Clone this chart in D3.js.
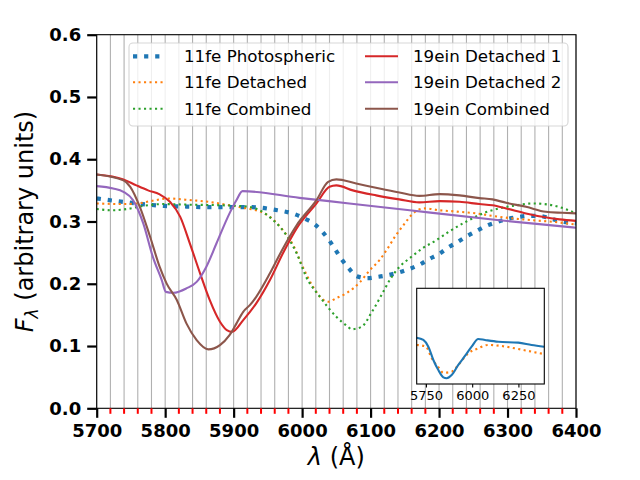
<!DOCTYPE html>
<html>
<head>
<meta charset="utf-8">
<script src="https://cdn.jsdelivr.net/npm/d3@7"></script>
<style>
  body { margin: 0; background: #fff; }
  svg { display: block; font-family: "DejaVu Sans", sans-serif; }
</style>
</head>
<body>
<div id="wrapper"></div>
<script>
// main panel data, wavelength in Angstrom, flux in arbitrary units
const photWl = [5700,5735,5766,5799,5831,5863,5895,5927,5959,5991,6005,6019,6030,6040,6049,6058,6068,6080,6095,6110,6126,6141,6157,6172,6186,6200,6213,6227,6240,6255,6269,6284,6299,6315,6331,6346,6362,6378,6400]
const photFlux = [0.337,0.332,0.328,0.325,0.324,0.323,0.323,0.323,0.319,0.311,0.304,0.295,0.283,0.269,0.254,0.239,0.225,0.212,0.209,0.211,0.214,0.218,0.224,0.231,0.240,0.248,0.258,0.267,0.276,0.285,0.293,0.299,0.304,0.307,0.309,0.309,0.305,0.300,0.297]

const detWl = [5700,5740,5760,5780,5804,5830,5860,5894,5919,5933,5953,5972,5987,6001,6016,6030,6038,6050,6065,6084,6099,6113,6125,6137,6150,6162,6179,6201,6225,6254,6278,6307,6337,6366,6400]
const detFlux = [0.329,0.328,0.329,0.333,0.337,0.335,0.332,0.326,0.321,0.318,0.3075,0.286,0.262,0.227,0.195,0.175,0.171,0.177,0.185,0.202,0.222,0.238,0.257,0.278,0.297,0.313,0.321,0.318,0.316,0.313,0.309,0.305,0.302,0.2995,0.295]

const combWl = [5700,5724,5744,5768,5797,5836,5884,5919,5938,5958,5977,5992,6006,6026,6050,6067,6072,6087,6101,6116,6128,6142,6157,6176,6196,6215,6240,6264,6288,6313,6337,6366,6400]
const combFlux = [0.320,0.318,0.320,0.325,0.328,0.327,0.326,0.324,0.318,0.302,0.278,0.249,0.211,0.179,0.147,0.131,0.127,0.131,0.153,0.182,0.206,0.227,0.241,0.257,0.270,0.284,0.300,0.313,0.321,0.326,0.329,0.326,0.313]

const det1Wl = [5700,5739,5758,5775,5792,5807,5822,5836,5851,5865,5880,5890,5898,5914,5933,5953,5972,5992,6021,6040,6050,6074,6108,6142,6171,6201,6230,6259,6278,6298,6327,6351,6376,6400]
const det1Flux = [0.3756,0.3676,0.358,0.350,0.3435,0.3316,0.3075,0.265,0.2167,0.174,0.139,0.1257,0.123,0.1417,0.1685,0.206,0.249,0.289,0.329,0.3557,0.358,0.350,0.342,0.3355,0.3307,0.3327,0.3316,0.328,0.326,0.321,0.313,0.3075,0.3034,0.301]

const det2Wl = [5700,5724,5739,5753,5768,5782,5795,5801,5812,5831,5846,5860,5875,5894,5904,5913,5996,6069,6157,6288,6400]
const det2Flux = [0.3568,0.353,0.3477,0.3343,0.297,0.2433,0.206,0.187,0.1856,0.1926,0.203,0.227,0.265,0.313,0.334,0.3488,0.338,0.329,0.318,0.302,0.290]

const ein19Wl = [5700,5739,5749,5763,5778,5792,5802,5817,5831,5846,5863,5880,5894,5899,5904,5914,5924,5933,5953,5972,5992,6021,6038,6050,6079,6113,6142,6171,6201,6230,6259,6278,6298,6327,6356,6380,6400]
const ein19Flux = [0.3756,0.366,0.3557,0.3236,0.2755,0.227,0.2006,0.174,0.1364,0.1096,0.0947,0.1016,0.1177,0.126,0.136,0.155,0.166,0.179,0.2167,0.2568,0.294,0.3343,0.3637,0.3676,0.361,0.353,0.3467,0.3412,0.344,0.3419,0.3376,0.3355,0.330,0.3236,0.3156,0.314,0.313]

// inset data (no y scale shown, normalised units)
const insetBlueWl = [5700,5736,5763,5790,5817,5844,5862,5889,5925,5961,5997,6033,6069,6141,6249,6321,6389]
const insetBlueFlux = [0.484,0.460,0.390,0.251,0.146,0.070,0.060,0.094,0.199,0.293,0.390,0.470,0.460,0.442,0.432,0.408,0.390]
const insetOrangeWl = [5700,5750,5781,5817,5844,5889,5925,5979,6033,6087,6159,6249,6321,6389]
const insetOrangeFlux = [0.408,0.390,0.269,0.175,0.118,0.129,0.199,0.321,0.373,0.408,0.397,0.366,0.338,0.313]

const xTicks = [5700,5800,5900,6000,6100,6200,6300,6400]
const yTicks = [0.0,0.1,0.2,0.3,0.4,0.5,0.6]
const insetTicks = [5750,6000,6250]

const seriesNames = ['11fe Photospheric','11fe Detached','11fe Combined','19ein Detached 1','19ein Detached 2','19ein Combined']

function drawChart() {
    const dimensions = {
        width: 640,
        height: 480,
        margin: { top: 34.7, right: 64, bottom: 71.7, left: 96.7 }
    }
    dimensions.boundedWidth = dimensions.width - dimensions.margin.left - dimensions.margin.right
    dimensions.boundedHeight = dimensions.height - dimensions.margin.top - dimensions.margin.bottom

    const svg = d3.select('#wrapper').append('svg')
        .attr('width', dimensions.width)
        .attr('height', dimensions.height)

    const bounds = svg.append('g')
        .attr('transform', `translate(${dimensions.margin.left},${dimensions.margin.top})`)

    const xScale = d3.scaleLinear().domain([5700, 6400]).range([0, dimensions.boundedWidth])
    const yScale = d3.scaleLinear().domain([0, 0.6]).range([dimensions.boundedHeight, 0])

    // grey vertical grid every 20 A
    const gridVals = d3.range(5700, 6401, 20)
    bounds.append('g').selectAll('line')
        .data(gridVals)
        .enter().append('line')
        .attr('x1', d => xScale(d)).attr('x2', d => xScale(d))
        .attr('y1', 0).attr('y2', dimensions.boundedHeight)
        .attr('stroke', '#b0b0b0')
        .attr('stroke-width', 1.1)

    const series = [
        { name: seriesNames[0], wl: photWl, flux: photFlux, color: '#1f77b4', width: 4.2, dash: '4.2,6.9' },
        { name: seriesNames[1], wl: detWl, flux: detFlux, color: '#ff7f0e', width: 2.1, dash: '2.1,3.4' },
        { name: seriesNames[2], wl: combWl, flux: combFlux, color: '#2ca02c', width: 2.1, dash: '2.1,3.4' },
        { name: seriesNames[3], wl: det1Wl, flux: det1Flux, color: '#d62728', width: 2.1, dash: null },
        { name: seriesNames[4], wl: det2Wl, flux: det2Flux, color: '#9467bd', width: 2.1, dash: null },
        { name: seriesNames[5], wl: ein19Wl, flux: ein19Flux, color: '#8c564b', width: 2.1, dash: null }
    ]

    const line = d3.line()
        .x(d => xScale(d[0]))
        .y(d => yScale(d[1]))
        .curve(d3.curveMonotoneX)

    bounds.append('g').selectAll('path')
        .data(series)
        .enter().append('path')
        .attr('d', s => line(d3.zip(s.wl, s.flux)))
        .attr('fill', 'none')
        .attr('stroke', s => s.color)
        .attr('stroke-width', s => s.width)
        .attr('stroke-dasharray', s => s.dash)

    // spines
    bounds.append('rect')
        .attr('width', dimensions.boundedWidth)
        .attr('height', dimensions.boundedHeight)
        .attr('fill', 'none')
        .attr('stroke', '#000')
        .attr('stroke-width', 1.1)

    // x axis: black majors, red minors
    const minorVals = gridVals.filter(d => d % 100 !== 0)
    const xAxisG = bounds.append('g')
        .attr('transform', `translate(0,${dimensions.boundedHeight})`)
    xAxisG.selectAll('.minor')
        .data(minorVals)
        .enter().append('line')
        .attr('class', 'minor')
        .attr('x1', d => xScale(d)).attr('x2', d => xScale(d))
        .attr('y1', 0).attr('y2', 5.5)
        .attr('stroke', 'red')
        .attr('stroke-width', 2)

    const xAxis = d3.axisBottom(xScale)
        .tickValues(xTicks)
        .tickFormat(d3.format('d'))
        .tickSize(9.5)
        .tickPadding(6)
    xAxisG.append('g').call(xAxis)
    xAxisG.select('.domain').remove()
    xAxisG.selectAll('.tick line').attr('stroke', '#000').attr('stroke-width', 2.2)
    xAxisG.selectAll('.tick text')
        .attr('font-size', 18).attr('font-weight', 'bold')
        .attr('font-family', 'DejaVu Sans').attr('fill', '#000')

    const yAxis = d3.axisLeft(yScale)
        .tickValues(yTicks)
        .tickFormat(d3.format('.1f'))
        .tickSize(9.5)
        .tickPadding(6)
    const yAxisG = bounds.append('g').call(yAxis)
    yAxisG.select('.domain').remove()
    yAxisG.selectAll('.tick line').attr('stroke', '#000').attr('stroke-width', 2.2)
    yAxisG.selectAll('.tick text')
        .attr('font-size', 18).attr('font-weight', 'bold')
        .attr('font-family', 'DejaVu Sans').attr('fill', '#000')

    // axis labels
    const xLabel = svg.append('text')
        .attr('x', dimensions.margin.left + dimensions.boundedWidth / 2)
        .attr('y', 465)
        .attr('text-anchor', 'middle')
        .attr('font-size', 24)
    xLabel.append('tspan').attr('font-style', 'italic').text('λ')
    xLabel.append('tspan').text(' (Å)')

    const yLabel = svg.append('text')
        .attr('transform', `translate(33,${dimensions.margin.top + dimensions.boundedHeight / 2}) rotate(-90)`)
        .attr('text-anchor', 'middle')
        .attr('font-size', 24)
    yLabel.append('tspan').attr('font-style', 'italic').text('F')
    yLabel.append('tspan').attr('font-style', 'italic').attr('font-size', 17).attr('dy', 5).text('λ')
    yLabel.append('tspan').attr('dy', -5).text(' (arbitrary units)')

    // legend
    const legend = svg.append('g')
    legend.append('rect')
        .attr('x', 129).attr('y', 43)
        .attr('width', 439).attr('height', 83)
        .attr('rx', 4)
        .attr('fill', 'rgba(255,255,255,0.8)')
        .attr('stroke', 'rgba(204,204,204,0.8)')
        .attr('stroke-width', 1.1)
    const rowY = [56.3, 82.3, 108.7]
    const colX = [{ h: 133, t: 184 }, { h: 365, t: 413 }]
    const items = legend.selectAll('.item')
        .data(series)
        .enter().append('g')
        .attr('class', 'item')
        .attr('transform', (d, i) => `translate(0,${rowY[i % 3]})`)
    items.append('line')
        .attr('x1', (d, i) => colX[Math.floor(i / 3)].h)
        .attr('x2', (d, i) => colX[Math.floor(i / 3)].h + 33)
        .attr('stroke', d => d.color)
        .attr('stroke-width', d => d.width)
        .attr('stroke-dasharray', d => d.dash)
    items.append('text')
        .attr('x', (d, i) => colX[Math.floor(i / 3)].t)
        .attr('dy', '0.35em')
        .attr('font-size', 16.7)
        .text(d => d.name)

    // inset
    const inset = { x: 416.7, y: 288.3, w: 127.6, h: 95.7 }
    const insetG = svg.append('g').attr('transform', `translate(${inset.x},${inset.y})`)
    insetG.append('rect')
        .attr('width', inset.w).attr('height', inset.h)
        .attr('fill', '#fff')
    const ixScale = d3.scaleLinear().domain([5700, 6390]).range([0, inset.w])
    const iyScale = d3.scaleLinear().domain([0, 1]).range([inset.h, 0])
    const iline = d3.line()
        .x(d => ixScale(d[0]))
        .y(d => iyScale(d[1]))
        .curve(d3.curveMonotoneX)
    insetG.append('path')
        .attr('d', iline(d3.zip(insetOrangeWl, insetOrangeFlux)))
        .attr('fill', 'none')
        .attr('stroke', '#ff7f0e')
        .attr('stroke-width', 2.1)
        .attr('stroke-dasharray', '2.1,3.4')
    insetG.append('path')
        .attr('d', iline(d3.zip(insetBlueWl, insetBlueFlux)))
        .attr('fill', 'none')
        .attr('stroke', '#1f77b4')
        .attr('stroke-width', 2.1)
    insetG.append('rect')
        .attr('width', inset.w).attr('height', inset.h)
        .attr('fill', 'none')
        .attr('stroke', '#000')
        .attr('stroke-width', 1.1)
    const iAxis = d3.axisBottom(ixScale)
        .tickValues(insetTicks)
        .tickFormat(d3.format('d'))
        .tickSize(3.5)
        .tickPadding(3)
    const iAxisG = insetG.append('g')
        .attr('transform', `translate(0,${inset.h})`)
        .call(iAxis)
    iAxisG.select('.domain').remove()
    iAxisG.selectAll('.tick line').attr('stroke', '#000').attr('stroke-width', 1.1)
    iAxisG.selectAll('.tick text')
        .attr('font-size', 13).attr('font-family', 'DejaVu Sans').attr('fill', '#000')
}

drawChart()
</script>
</body>
</html>
